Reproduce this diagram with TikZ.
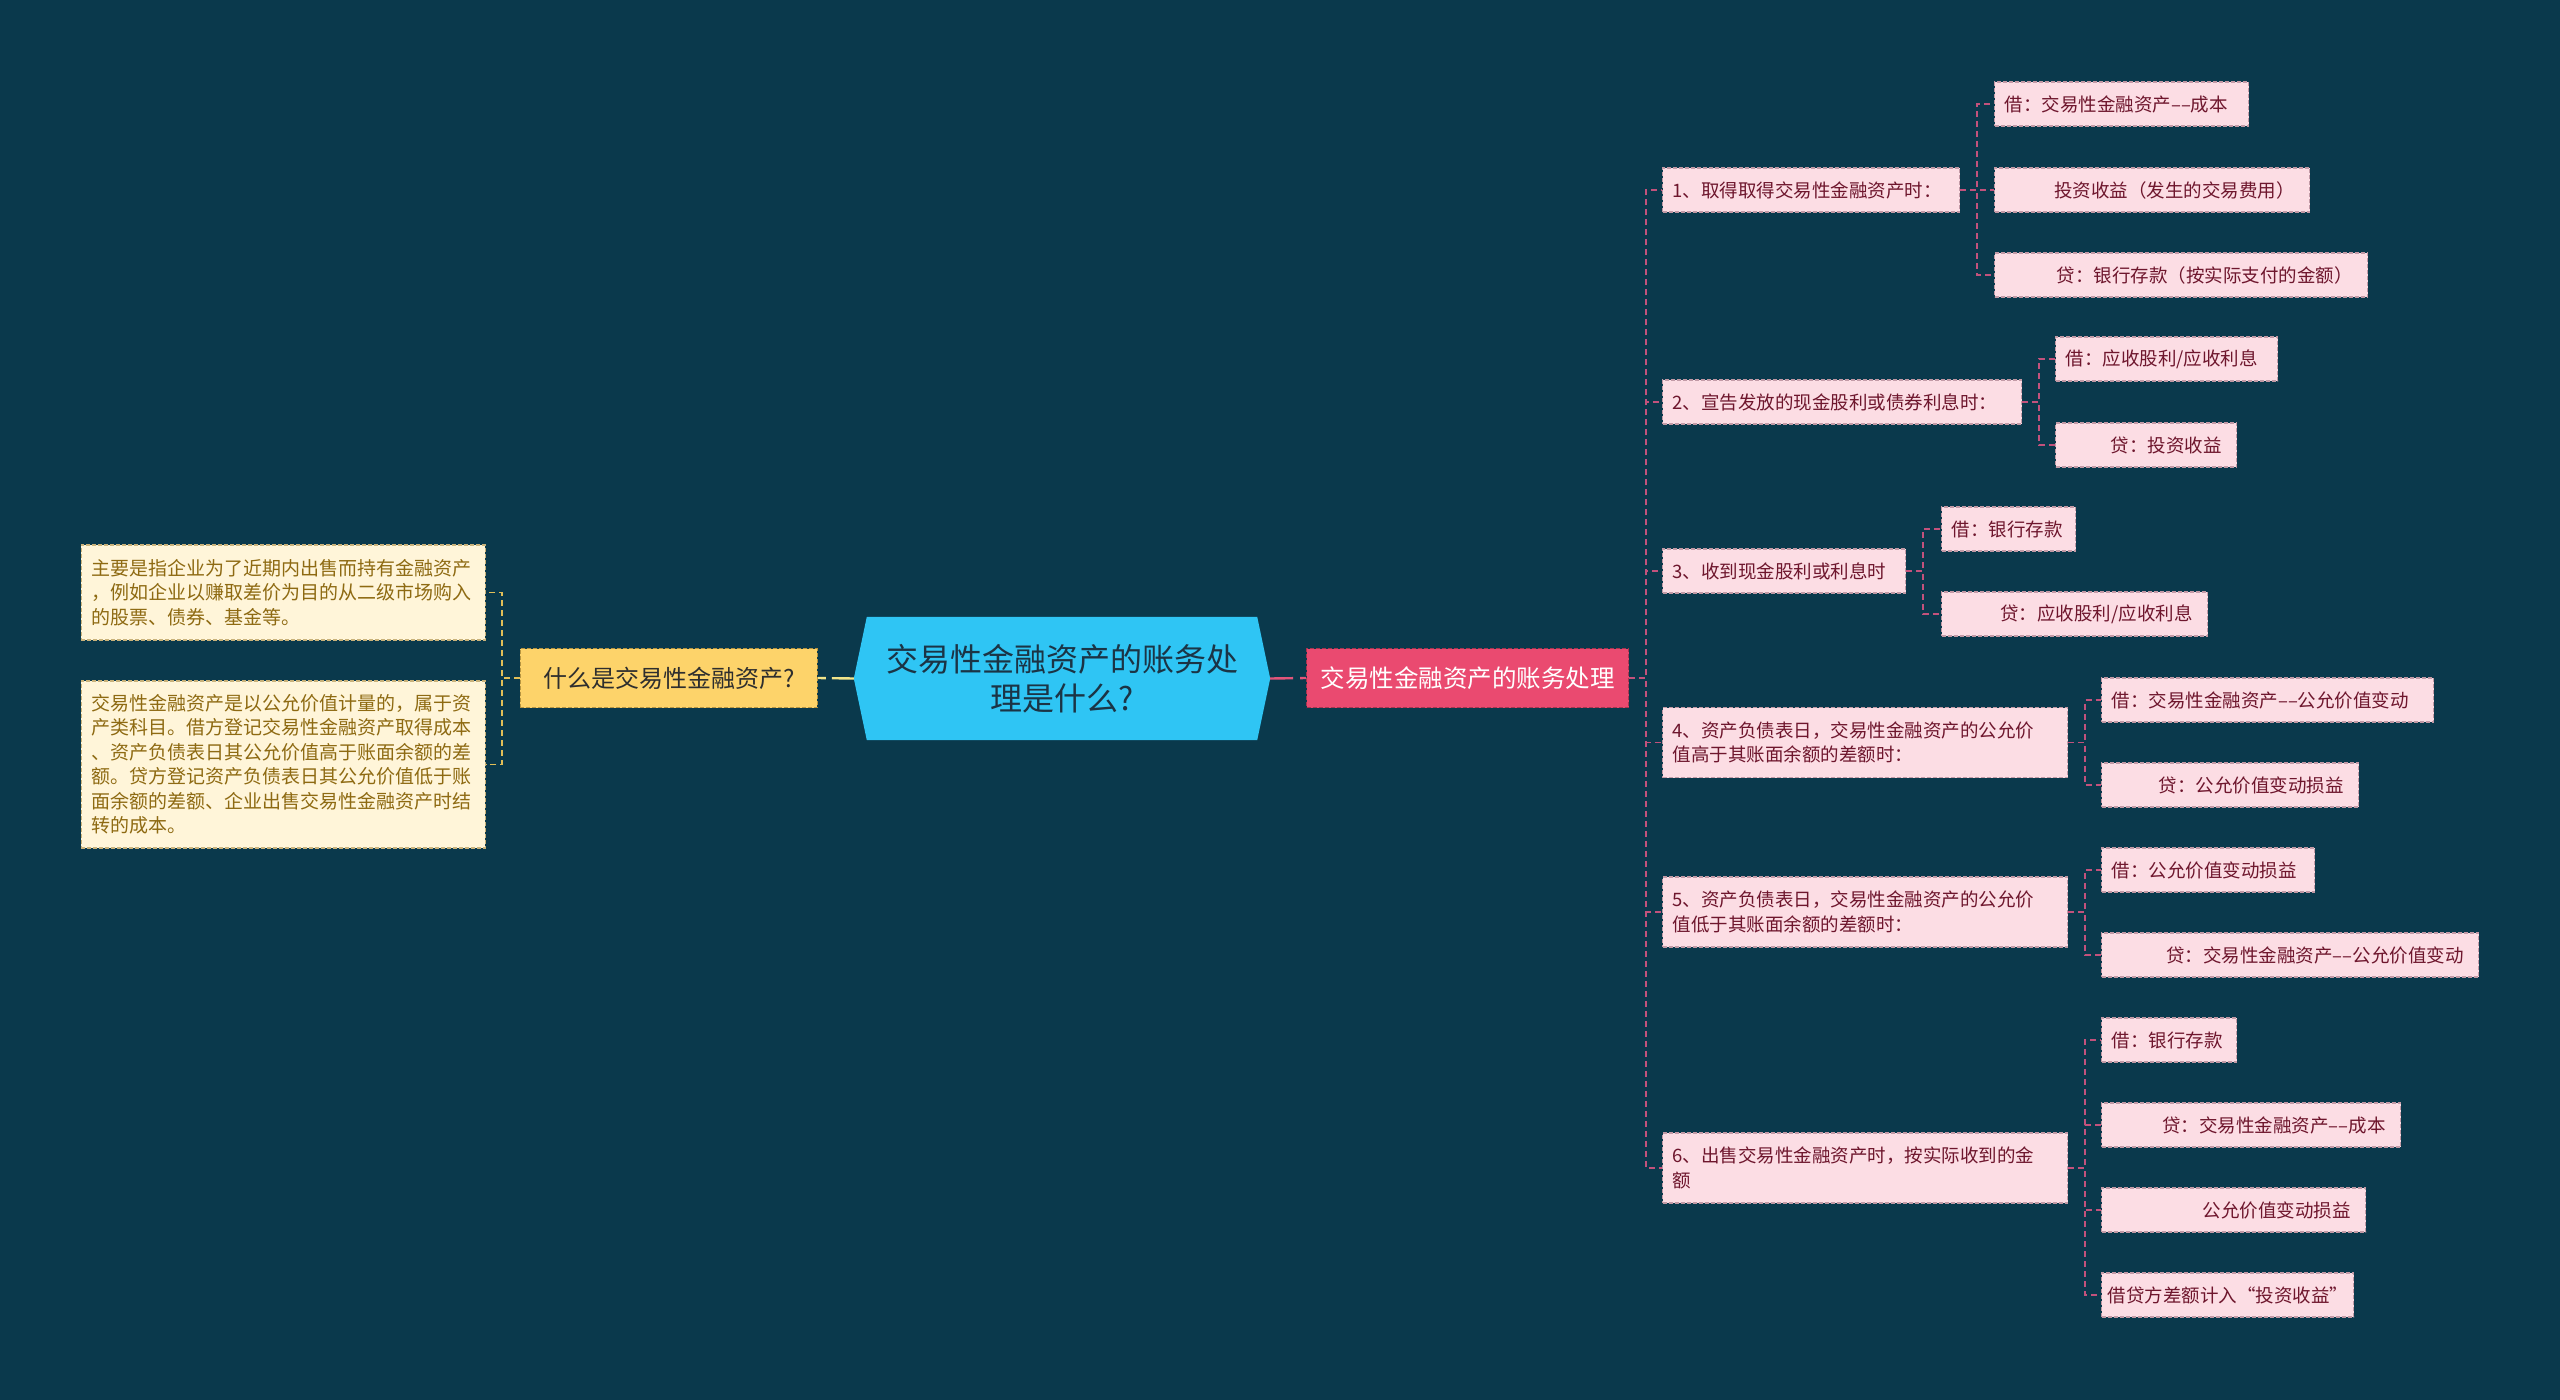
\documentclass[tikz,border=0pt]{standalone}
\usepackage{fontspec}
\setmainfont{Noto Sans CJK SC}
\usetikzlibrary{backgrounds}
\definecolor{bg}{HTML}{0A394C}
\definecolor{subfill}{HTML}{FCDDE4}
\definecolor{subtext}{HTML}{6E162D}
\definecolor{subborder}{HTML}{C29AA6}
\definecolor{connpink}{HTML}{C2527C}
\definecolor{connyel}{HTML}{E2BF58}
\definecolor{mainpink}{HTML}{EA4A70}
\definecolor{mainpinkborder}{HTML}{A8344F}
\definecolor{rootcyan}{HTML}{2FC5F4}
\definecolor{roottext}{HTML}{1B3445}
\definecolor{yelfill}{HTML}{FDD36A}
\definecolor{yelborder}{HTML}{B89540}
\definecolor{yeltext}{HTML}{2E2E2E}
\definecolor{creamfill}{HTML}{FFF5D9}
\definecolor{creamborder}{HTML}{C9B27A}
\definecolor{creamtext}{HTML}{8E6A12}
\definecolor{rootyline}{HTML}{F2E58A}
\definecolor{rootpline}{HTML}{E2557A}
\tikzset{
  conn/.style={draw=connpink, line width=1.8pt, dash pattern=on 6pt off 4pt},
  connY/.style={draw=connyel, line width=1.8pt, dash pattern=on 6pt off 4pt},
  lvl/.style={draw=subborder, fill=subfill, text=subtext, line width=1.2pt,
    dash pattern=on 4pt off 2pt, font=\fontsize{18.5}{24.5}\selectfont,
    inner xsep=10pt, inner ysep=0pt, minimum height=44pt, anchor=west, align=left},
  subR/.style={lvl, align=right},
  creambox/.style={draw=creamborder, fill=creamfill, text=creamtext, line width=1.2pt,
    dash pattern=on 4pt off 2pt, font=\fontsize{19}{24.5}\selectfont,
    inner xsep=10pt, inner ysep=0pt, text width=384pt, align=left, anchor=east},
  yelnode/.style={draw=yelborder, fill=yelfill, text=yeltext, line width=1.2pt,
    dash pattern=on 4pt off 2pt, font=\fontsize{24}{30}\selectfont,
    minimum width=297pt, minimum height=59pt, inner sep=0pt, anchor=east},
  pinknode/.style={draw=mainpinkborder, fill=mainpink, text=white, line width=1.2pt,
    dash pattern=on 4pt off 2pt, font=\fontsize{24.5}{30}\selectfont,
    minimum width=322pt, minimum height=59pt, inner sep=0pt, anchor=west},
  rootnode/.style={text=roottext, font=\fontsize{32}{39}\selectfont,
    minimum width=416pt, minimum height=123pt, inner sep=0pt, align=center},
  rootY/.style={draw=rootyline, line width=2.4pt, dash pattern=on 22pt off 6pt on 10pt},
  rootP/.style={draw=rootpline, line width=2.4pt, dash pattern=on 23pt off 7pt on 10pt},
}
\begin{document}
\begin{tikzpicture}[x=1pt,y=-1pt]
\useasboundingbox (0,0) rectangle (2560,1400);

% central node
\node[rootnode] (root) at (1062,678.5) {交易性金融资产的账务处\\理是什么?};
\begin{scope}[on background layer]
\fill[bg] (0,0) rectangle (2560,1400);
\fill[rootcyan] (root.west) -- ([xshift=13pt]root.north west) -- ([xshift=-13pt]root.north east)
  -- (root.east) -- ([xshift=-13pt]root.south east) -- ([xshift=13pt]root.south west) -- cycle;
\end{scope}

% left branch
\node[yelnode] (what) at (818,678) {什么是交易性金融资产?};
\node[creambox, minimum height=95pt] (dA) at (486,592.5)
  {主要是指企业为了近期内出售而持有金融资产\\，例如企业以赚取差价为目的从二级市场购入\\的股票、债券、基金等。};
\node[creambox, minimum height=167pt] (dB) at (486,764.5)
  {交易性金融资产是以公允价值计量的，属于资\\产类科目。借方登记交易性金融资产取得成本\\、资产负债表日其公允价值高于账面余额的差\\额。贷方登记资产负债表日其公允价值低于账\\面余额的差额、企业出售交易性金融资产时结\\转的成本。};

% right branch
\node[pinknode] (acct) at (1306,678) {交易性金融资产的账务处理};

\node[lvl, text width=277pt] (n1) at (1662,190) {1、取得取得交易性金融资产时：};
\node[lvl, text width=339pt] (n2) at (1662,402) {2、宣告发放的现金股利或债券利息时：};
\node[lvl, text width=223pt] (n3) at (1662,571) {3、收到现金股利或利息时};
\node[lvl, text width=385pt, minimum height=70pt] (n4) at (1662,742.5)
  {4、资产负债表日，交易性金融资产的公允价\\值高于其账面余额的差额时：};
\node[lvl, text width=385pt, minimum height=70pt] (n5) at (1662,912)
  {5、资产负债表日，交易性金融资产的公允价\\值低于其账面余额的差额时：};
\node[lvl, text width=385pt, minimum height=70pt] (n6) at (1662,1168)
  {6、出售交易性金融资产时，按实际收到的金\\额};

% group 1
\node[lvl, text width=234pt] (c11) at (1994,104) {借：交易性金融资产––成本};
\node[subR, minimum width=315pt, text width=285pt] (c12) at (1994,190) {投资收益（发生的交易费用）};
\node[subR, minimum width=373pt, text width=343pt] (c13) at (1994,275) {贷：银行存款（按实际支付的金额）};
% group 2
\node[lvl, text width=202pt] (c21) at (2055,359) {借：应收股利/应收利息};
\node[subR, minimum width=181pt, text width=151pt] (c22) at (2055,445) {贷：投资收益};
% group 3
\node[lvl, text width=114pt] (c31) at (1941,529) {借：银行存款};
\node[subR, minimum width=266pt, text width=236pt] (c32) at (1941,614) {贷：应收股利/应收利息};
% group 4
\node[lvl, text width=312pt] (c41) at (2101,700) {借：交易性金融资产––公允价值变动};
\node[subR, minimum width=257pt, text width=227pt] (c42) at (2101,785) {贷：公允价值变动损益};
% group 5
\node[lvl, text width=193pt] (c51) at (2101,870) {借：公允价值变动损益};
\node[subR, minimum width=377pt, text width=347pt] (c52) at (2101,955) {贷：交易性金融资产––公允价值变动};
% group 6
\node[lvl, text width=115pt] (c61) at (2101,1040) {借：银行存款};
\node[subR, minimum width=299pt, text width=269pt] (c62) at (2101,1125) {贷：交易性金融资产––成本};
\node[subR, minimum width=264pt, text width=234pt] (c63) at (2101,1210) {公允价值变动损益};
\node[lvl, inner xsep=6pt, text width=240pt] (c64) at (2101,1295) {借贷方差额计入“投资收益”};

% connectors
\draw[rootY] (root.west) -- (what.east);
\draw[rootP] (root.east) -- (acct.west);
\foreach \c in {dA,dB} \draw[connY] (what.west) -- ++(-18,0) |- (\c.east);
\foreach \c in {n1,n2,n3,n4,n5,n6} \draw[conn] (acct.east) -- ++(17,0) |- (\c.west);
\foreach \c in {c11,c12,c13} \draw[conn] (n1.east) -- ++(17,0) |- (\c.west);
\foreach \c in {c21,c22} \draw[conn] (n2.east) -- ++(17,0) |- (\c.west);
\foreach \c in {c31,c32} \draw[conn] (n3.east) -- ++(17,0) |- (\c.west);
\foreach \c in {c41,c42} \draw[conn] (n4.east) -- ++(17,0) |- (\c.west);
\foreach \c in {c51,c52} \draw[conn] (n5.east) -- ++(17,0) |- (\c.west);
\foreach \c in {c61,c62,c63,c64} \draw[conn] (n6.east) -- ++(17,0) |- (\c.west);
\end{tikzpicture}
\end{document}
